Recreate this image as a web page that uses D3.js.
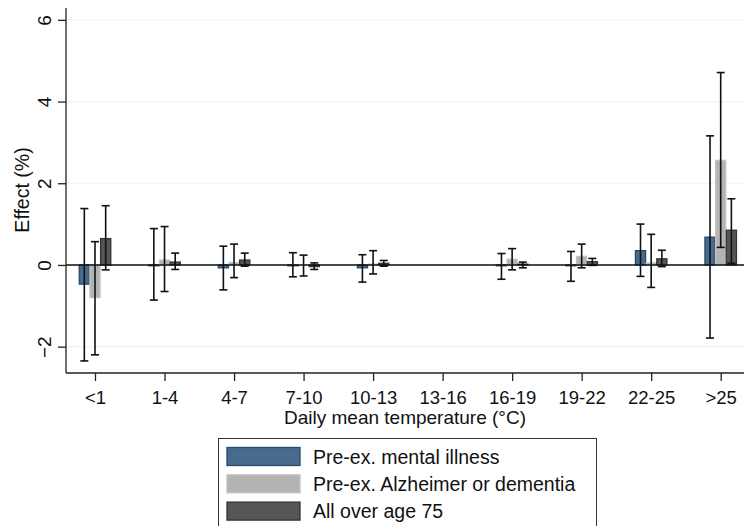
<!DOCTYPE html>
<html>
<head>
<meta charset="utf-8">
<script src="https://cdn.jsdelivr.net/npm/d3@7"></script>
<style>
  body { margin: 0; background: #fff; }
  svg { display: block; font-family: "Liberation Sans", Arial, sans-serif; }
</style>
</head>
<body>
<div id="chart"></div>
<script>
const categories = ["<1", "1-4", "4-7", "7-10", "10-13", "13-16", "16-19", "19-22", "22-25", ">25"];
const series = ["Pre-ex. mental illness", "Pre-ex. Alzheimer or dementia", "All over age 75"];

// point estimates (%), null = reference category
const mentalEst = [-0.47, -0.02, -0.07, -0.02, -0.07, null, -0.02, -0.02, 0.35, 0.68];
const mentalLo = [-2.35, -0.86, -0.61, -0.29, -0.42, null, -0.35, -0.40, -0.28, -1.79];
const mentalHi = [1.38, 0.89, 0.46, 0.30, 0.25, null, 0.28, 0.33, 1.00, 3.16];

const alzEst = [-0.80, 0.12, 0.06, 0.00, 0.02, null, 0.14, 0.21, 0.05, 2.56];
const alzLo = [-2.20, -0.65, -0.31, -0.27, -0.22, null, -0.12, -0.07, -0.55, 0.43];
const alzHi = [0.57, 0.94, 0.51, 0.24, 0.35, null, 0.40, 0.51, 0.75, 4.71];

const oldEst = [0.645, 0.07, 0.12, -0.04, 0.04, null, 0.02, 0.08, 0.15, 0.85];
const oldLo = [-0.12, -0.11, -0.03, -0.11, -0.03, null, -0.07, -0.01, -0.04, 0.04];
const oldHi = [1.45, 0.29, 0.29, 0.05, 0.11, null, 0.07, 0.16, 0.36, 1.62];

const yTicks = [-2, 0, 2, 4, 6];

const fills = ["#476b8c", "#b3b3b3", "#555555"];
const strokes = ["#234a6e", "#c4c4c4", "#333333"];

const W = 744, H = 526;
const plotLeft = 66, plotRight = 744, plotTop = 8, plotBottom = 373;

const svg = d3.select("#chart").append("svg").attr("width", W).attr("height", H);

const y = d3.scaleLinear().domain([-2.645, 6.29]).range([plotBottom, plotTop]);
const x = d3.scalePoint().domain(categories).range([95, 720.7]);
const xSub = d3.scaleBand().domain(series).range([-15.75, 15.75]).paddingInner(0.05);

// gridlines
svg.append("g")
  .selectAll("line")
  .data(yTicks)
  .join("line")
  .attr("x1", plotLeft).attr("x2", plotRight)
  .attr("y1", d => y(d)).attr("y2", d => y(d))
  .attr("stroke", "#eaf4f4")
  .attr("stroke-width", 1.2);

// data table
const table = [];
const ests = [mentalEst, alzEst, oldEst], los = [mentalLo, alzLo, oldLo], his = [mentalHi, alzHi, oldHi];
categories.forEach((c, i) => {
  series.forEach((s, j) => {
    if (ests[j][i] === null) return;
    table.push({ cat: c, s, j, est: ests[j][i], lo: los[j][i], hi: his[j][i] });
  });
});

// bars
svg.append("g")
  .selectAll("rect")
  .data(table)
  .join("rect")
  .attr("x", d => x(d.cat) + xSub(d.s))
  .attr("width", xSub.bandwidth())
  .attr("y", d => y(Math.max(0, d.est)))
  .attr("height", d => Math.abs(y(d.est) - y(0)))
  .attr("fill", d => fills[d.j])
  .attr("stroke", d => strokes[d.j])
  .attr("stroke-width", 1.3);

// zero line
svg.append("line")
  .attr("x1", plotLeft).attr("x2", plotRight)
  .attr("y1", y(0)).attr("y2", y(0))
  .attr("stroke", "#111").attr("stroke-width", 1.6);

// error bars
const err = svg.append("g").attr("stroke", "#111").attr("stroke-width", 1.6);
table.forEach(d => {
  const cx = x(d.cat) + xSub(d.s) + xSub.bandwidth() / 2;
  err.append("line").attr("x1", cx).attr("x2", cx).attr("y1", y(d.lo)).attr("y2", y(d.hi));
  err.append("line").attr("x1", cx - 4).attr("x2", cx + 4).attr("y1", y(d.lo)).attr("y2", y(d.lo));
  err.append("line").attr("x1", cx - 4).attr("x2", cx + 4).attr("y1", y(d.hi)).attr("y2", y(d.hi));
});

// y axis
const yAxis = svg.append("g")
  .attr("transform", `translate(${plotLeft},0)`)
  .call(d3.axisLeft(y).tickValues(yTicks).tickSize(8).tickPadding(4).tickFormat(d3.format("d")));
yAxis.select(".domain").attr("d", `M0,${plotTop}V${plotBottom}`).attr("stroke", "#222").attr("stroke-width", 1.3);
yAxis.selectAll(".tick line").attr("stroke", "#222").attr("stroke-width", 1.3);
yAxis.selectAll(".tick text")
  .attr("x", 0).attr("dy", null)
  .attr("transform", "translate(-15,0) rotate(-90)")
  .attr("text-anchor", "middle")
  .style("font-size", "19px").attr("fill", "#111");

// x axis
const xAxis = svg.append("g")
  .attr("transform", `translate(0,${plotBottom})`)
  .call(d3.axisBottom(x).tickSize(8).tickPadding(6));
xAxis.select(".domain").attr("d", `M${plotLeft},0H${plotRight}`).attr("stroke", "#222").attr("stroke-width", 1.3);
xAxis.selectAll(".tick line").attr("stroke", "#222").attr("stroke-width", 1.3);
xAxis.selectAll(".tick text")
  .attr("y", 30.5).attr("dy", null)
  .style("font-size", "18.5px").attr("fill", "#111");

// axis titles
svg.append("text")
  .attr("transform", "translate(29,190) rotate(-90)")
  .attr("text-anchor", "middle")
  .style("font-size", "19.5px").attr("fill", "#111")
  .text("Effect (%)");

svg.append("text")
  .attr("x", (plotLeft + plotRight) / 2).attr("y", 424)
  .attr("text-anchor", "middle")
  .style("font-size", "19px").attr("fill", "#111")
  .text("Daily mean temperature (°C)");

// legend
const legend = svg.append("g");
legend.append("rect")
  .attr("x", 218.5).attr("y", 438.5).attr("width", 378).attr("height", 100)
  .attr("fill", "#fff").attr("stroke", "#333").attr("stroke-width", 1);
const items = legend.selectAll("g.item")
  .data(series)
  .join("g")
  .attr("class", "item")
  .attr("transform", (d, i) => `translate(0,${447.5 + i * 27.3})`);
items.append("rect")
  .attr("x", 227).attr("y", 0).attr("width", 73).attr("height", 18)
  .attr("fill", (d, i) => fills[i])
  .attr("stroke", (d, i) => strokes[i]).attr("stroke-width", 1.3);
items.append("text")
  .attr("x", 313).attr("y", 16)
  .style("font-size", "19.5px").attr("fill", "#111")
  .text(d => d);
</script>
</body>
</html>
